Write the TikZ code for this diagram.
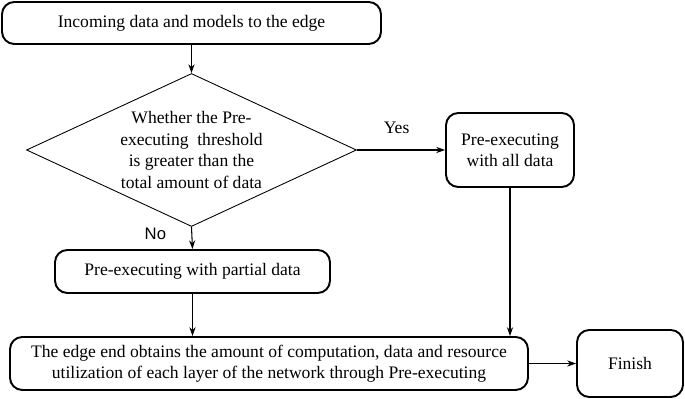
\documentclass[tikz,border=0pt]{standalone}
\usepackage{fontspec}
\setmainfont{Liberation Serif}
\newfontfamily\labelsans{Liberation Sans}
\usetikzlibrary{shapes.geometric,arrows.meta,positioning}

\begin{document}
\begin{tikzpicture}[
  font=\fontsize{10}{12.2}\selectfont,
  box/.style={draw, line width=1.1pt, rounded corners=7pt, align=center, inner sep=0pt},
  decision/.style={draw, diamond, aspect=2.16, line width=0.5pt, align=center, inner sep=0pt,
    minimum width=6.6cm, minimum height=3.06cm},
  flow/.style={-{Stealth[length=5pt,width=3.5pt]}, line width=0.6pt}
]
\useasboundingbox (0,0) rectangle (13.7,-7.98);

\node[box, minimum width=7.58cm, minimum height=0.84cm] (incoming) at (3.83,-0.46) {Incoming data and models to the edge};
\node[decision] (threshold) at (3.83,-3.0) {Whether the Pre-\\executing~ threshold\\is greater than the\\total amount of data};
\node[box, minimum width=2.56cm, minimum height=1.48cm] (allpre) at (10.2,-3.0) {Pre-executing\\with all data};
\node[box, minimum width=5.5cm, minimum height=0.86cm] (partialpre) at (3.85,-5.43) {Pre-executing with partial data};
\node[box, minimum width=10.36cm, minimum height=1.06cm] (outcome) at (5.38,-7.27) {The edge end obtains the amount of computation, data and resource\\utilization of each layer of the network through Pre-executing};
\node[box, minimum width=2.12cm, minimum height=1.34cm] (finish) at (12.6,-7.27) {Finish};

\draw[flow] (incoming) -- (threshold);
\draw[flow] (threshold.east) -- node[above=5.5pt, pos=0.45] {Yes} (allpre.west);
\draw[flow] (threshold.south) -- node[left=11pt, pos=0.3, font=\labelsans\fontsize{9.5}{11}\selectfont] {No} (partialpre.north);
\draw[flow] (allpre) -- (allpre |- outcome.north);
\draw[flow] (partialpre) -- (partialpre |- outcome.north);
\draw[flow] (outcome.east) -- (finish.west);
\end{tikzpicture}
\end{document}
